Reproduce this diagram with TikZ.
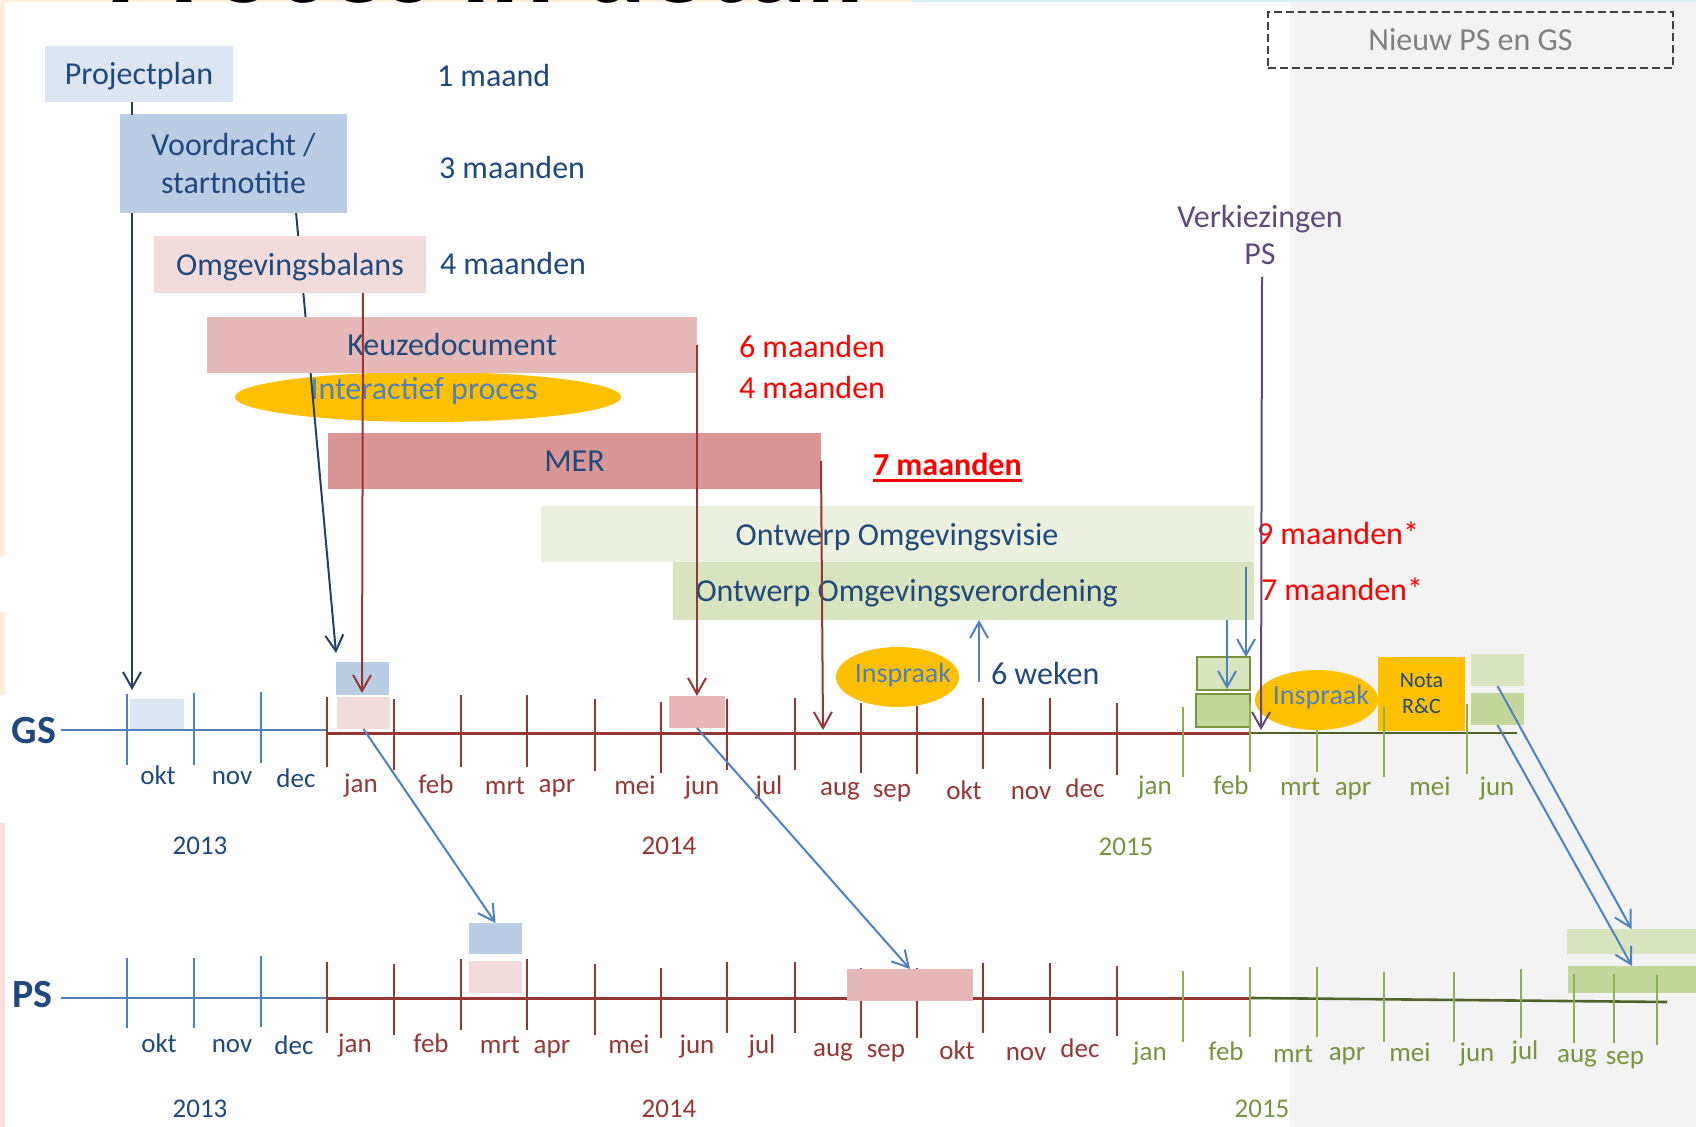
\documentclass[tikz,border=0pt]{standalone}
\usepackage{fontspec}
\setmainfont{Carlito}
\usetikzlibrary{arrows.meta,shapes.geometric,calc}
\definecolor{dblue}{HTML}{1F497D}
\definecolor{navy}{HTML}{243F60}
\definecolor{mblue}{HTML}{4F81BD}
\definecolor{lblue}{HTML}{DCE6F2}
\definecolor{bblue}{HTML}{B9CDE5}
\definecolor{lpink}{HTML}{F2DCDB}
\definecolor{mpink}{HTML}{E6B9B8}
\definecolor{dpink}{HTML}{D99694}
\definecolor{dred}{HTML}{953735}
\definecolor{gold}{HTML}{FFC000}
\definecolor{lgreen}{HTML}{EBF1DE}
\definecolor{mgreen}{HTML}{D7E4BD}
\definecolor{ggreen}{HTML}{C3D69B}
\definecolor{olive}{HTML}{77933C}
\definecolor{tgreen}{HTML}{8DB04E}
\definecolor{dgreen}{HTML}{4F6228}
\definecolor{purp}{HTML}{604A7B}
\definecolor{bggray}{HTML}{F3F3F3}
\definecolor{beige}{HTML}{FDEFDC}
\definecolor{spink}{HTML}{FBDDD9}
\definecolor{scyan}{HTML}{D9F2F8}
\definecolor{pred}{HTML}{FF0000}
\newcommand\mybox[7]{\node[inner sep=0pt, outer sep=0pt, minimum width={(#4-#2)*0.5pt}, minimum height={(#5-#3)*0.5pt}, #6] (#1) at ({(#2+#4)/2},{(#3+#5)/2}) {#7};}
\tikzset{
  lbl/.style={inner sep=0pt, outer sep=0pt, font=\fontsize{16}{19}\selectfont, text height=10.9pt, text depth=0pt},
  mlbl/.style={inner sep=0pt, outer sep=0pt, font=\fontsize{16}{19}\selectfont, align=center},
  mon/.style={inner sep=0pt, outer sep=0pt, font=\fontsize{13.5}{16}\selectfont, text height=8.4pt, text depth=0.7pt},
  arr/.style={line width=1pt, -{Straight Barb[length=8pt,width=9pt]}},
  boxtxt/.style={text=dblue, font=\fontsize{16}{19}\selectfont, text height=10.9pt, text depth=0pt},
  mboxtxt/.style={text=dblue, font=\fontsize{16}{19}\selectfont, align=center},
}
\begin{document}
\begin{tikzpicture}[x=0.5pt,y=-0.5pt]
\useasboundingbox (0,0) rectangle (1696,1127);
% background
\fill[white] (0,0) rectangle (1696,1127);
\fill[bggray] (1290,0) rectangle (1696,1127);
\fill[beige] (0,0) rectangle (5,557);
\fill[beige] (0,612) rectangle (5,695);
\fill[spink] (0,823) rectangle (5,1127);
\fill[beige] (0,0) rectangle (912,2);
\fill[scyan] (912,0) rectangle (1696,2);
% clipped title
\begin{scope}
\clip (0,0) rectangle (1696,1127);
\node[anchor=base west, inner sep=0pt, font=\fontsize{60}{60}\bfseries\selectfont] (title) at (106,3) {Proces in detail};
\end{scope}
% dashed box
\mybox{nieuw}{1268}{12}{1673}{68}{draw=black!75, dash pattern=on 4pt off 2pt, line width=1pt, text=black!50, font=\fontsize{16}{19}\selectfont}{Nieuw PS en GS}

% interactive process ellipse
\node[ellipse, fill=gold, minimum width=193pt, minimum height=25pt, inner sep=0pt] (ip) at (428,397) {};
\node[lbl, text=mblue] (iptxt) at (424,389) {Interactief proces};

% named end points
\coordinate (a1e) at (132,690);
\coordinate (a2e) at (336,653);
\coordinate (a3e) at (362,693);
\coordinate (a5e) at (823,730);
\coordinate (a6s) at (979,682);
\coordinate (a7e) at (1227,689);
\coordinate (a7bs) at (1246,567);
\coordinate (a8s) at (1262,277);
\coordinate (a8e) at (1261,730);

% top boxes
\mybox{proj}{45}{46}{233}{102}{fill=lblue, boxtxt}{Projectplan}
\mybox{voor}{120}{114}{347}{212}{fill=bblue, mboxtxt}{}
\mybox{omg}{154}{236}{426}{293}{fill=lpink, boxtxt}{}

% navy arrows (behind boxes)
\draw[arr, navy] (proj.south -| a1e) -- (a1e);
\draw[arr, navy] ($(voor.south)+(62.5,0)$) -- (a2e);

% boxes on top of navy lines
\mybox{voor2}{120}{114}{347}{212}{fill=bblue, mboxtxt, yshift=-0.5pt}{Voordracht /\\startnotitie}
\mybox{omg2}{154}{236}{426}{293}{fill=lpink, boxtxt}{Omgevingsbalans}
\mybox{keuze}{207}{317}{697}{373}{fill=mpink, boxtxt}{Keuzedocument}
\mybox{mer}{328}{433}{821}{489}{fill=dpink, boxtxt}{MER}
\mybox{visie}{541}{506}{1254}{562}{fill=lgreen}{}
\mybox{verord}{673}{562}{1254}{620}{fill=mgreen}{}
\node[lbl, text=dblue] (visietxt) at (897,535) {Ontwerp Omgevingsvisie};
\node[lbl, text=dblue] (verordtxt) at (906.6,591) {Ontwerp Omgevingsverordening};

% durations
\node[lbl, text=dblue, anchor=west] (d1) at (437,76) {1 maand};
\node[lbl, text=dblue, anchor=west] (d2) at (439,168) {3 maanden};
\node[lbl, text=dblue, anchor=west] (d3) at (440,264) {4 maanden};
\node[lbl, text=pred, anchor=west] (d4) at (739,347) {6 maanden};
\node[lbl, text=pred, anchor=west] (d5) at (739,388) {4 maanden};
\node[lbl, text=pred, anchor=west, font=\fontsize{16}{19}\bfseries\selectfont] (d6) at (873,465) {7 maanden};
\draw[pred, line width=1.4pt] ($(d6.base west)+(0,5)$) -- ($(d6.base east)+(0,5)$);
\node[lbl, text=pred, anchor=west] (d7) at (1257,534) {9 maanden*};
\node[lbl, text=pred, anchor=west] (d8) at (1261,590) {7 maanden*};
\node[mlbl, text=purp, font=\fontsize{16}{18.5}\selectfont] (verk) at (1260,235) {Verkiezingen\\PS};
\node[lbl, text=dblue, anchor=west] (weken) at (991,674) {6 weken};

% GS boxes
\mybox{gokt}{130}{699}{184}{729}{fill=lblue}{}
\mybox{gjanb}{336}{662}{389}{695}{fill=bblue}{}
\mybox{gjanp}{337}{697}{390}{729}{fill=lpink}{}
\mybox{gjun}{669}{696}{725}{728}{fill=mpink}{}
\mybox{gfeba}{1197}{657}{1250}{690}{fill=mgreen, draw=olive, line width=1.2pt}{}
\mybox{gfebb}{1196}{694}{1250}{727}{fill=ggreen, draw=olive, line width=1.2pt}{}
\mybox{nota}{1378}{656}{1465}{730}{fill=gold, text=dblue, font=\fontsize{11}{13}\selectfont, align=center, yshift=-0.5pt}{Nota\\R\&C}
\mybox{gjuna}{1471}{654}{1524}{686}{fill=mgreen}{}
\mybox{gjunb}{1471}{693}{1524}{725}{fill=ggreen}{}
% PS boxes under ticks
\mybox{pauga}{1567}{929}{1696}{954}{fill=mgreen}{}
\mybox{paugb}{1568}{966}{1696}{993}{fill=ggreen}{}

% GS axis
\node[inner sep=0pt, text=dblue, font=\fontsize{20}{24}\bfseries\selectfont] (gs) at (34,731) {GS};
\draw[mblue, line width=1pt] (61,730) -- (327,730);
\draw[dred, line width=1.5pt] (327,733) -- (1251,733);
\draw[dgreen, line width=1.3pt] (1251,733) -- (1517,733);
\foreach \x/\a/\b in {127/694/765, 193.5/693/765, 260.7/692/763}
  \draw[mblue, line width=1pt] (\x,\a) -- (\x,\b);
\foreach \x/\a/\b in {326.8/697/767, 393.5/699/770, 460.7/695/767, 527.4/695/767, 594.6/699/771, 661.2/702/773, 727.4/699/770, 794.6/698/770, 861/703/773, 916.6/706/774, 982.9/698/769, 1049.7/698/769, 1117/703/775}
  \draw[dred, line width=1pt] (\x,\a) -- (\x,\b);
\foreach \x/\a/\b in {1182.9/707/777, 1250.3/703/772, 1317/730/772, 1384/707/777, 1467/704/774}
  \draw[tgreen, line width=1pt] (\x,\a) -- (\x,\b);

% PS axis
\node[inner sep=0pt, text=dblue, font=\fontsize{20}{24}\bfseries\selectfont] (ps) at (32.5,995) {PS};
\draw[mblue, line width=1pt] (61,998) -- (327,998);
\draw[dred, line width=1.5pt] (327,998) -- (1251,998);
\draw[dgreen, line width=1.3pt] (1251,998) -- (1667,1002);
\foreach \x/\a/\b in {127/958/1028, 193.5/958/1028, 260.7/956/1027}
  \draw[mblue, line width=1pt] (\x,\a) -- (\x,\b);
\foreach \x/\a/\b in {326.8/962/1033, 393.5/964/1035, 460.7/959/1030, 527.4/959/1030, 594.6/964/1035, 661.2/968/1038, 727.4/962/1033, 794.6/962/1033, 861/968/1038, 916.6/968/1038, 982.9/963/1033, 1049.7/963/1033, 1117/966/1036}
  \draw[dred, line width=1pt] (\x,\a) -- (\x,\b);
\foreach \x/\a/\b in {1182.9/971/1042, 1250/967/1037, 1317/967/1037, 1384/972/1042, 1454/972/1042, 1521/969/1038, 1574/974/1043, 1614/974/1043, 1657/975/1045}
  \draw[tgreen, line width=1pt] (\x,\a) -- (\x,\b);

% PS boxes over ticks
\mybox{pmrtb}{469}{923}{522}{954}{fill=bblue}{}
\mybox{pmrtp}{469}{961}{522}{993}{fill=lpink}{}
\mybox{psep}{847}{969}{973}{1001}{fill=mpink}{}

% Inspraak ellipses
\node[ellipse, fill=gold, minimum width=61.5pt, minimum height=30pt, inner sep=0pt] (insp1) at (897.5,677) {};
\node[inner sep=0pt, text=mblue, font=\fontsize{14}{16}\selectfont] (insp1t) at (903,675) {Inspraak};
\node[ellipse, fill=gold, minimum width=61.5pt, minimum height=30pt, inner sep=0pt] (insp2) at (1316.5,700) {};
\node[inner sep=0pt, text=mblue, font=\fontsize{14}{16}\selectfont] (insp2t) at (1321,697) {Inspraak};

% month labels GS
\foreach \x/\y/\m/\c [count=\i] in {158/777/okt/dblue, 232/777/nov/dblue, 296/780/dec/dblue, 361/785/jan/dred, 436/786/feb/dred, 505/787/mrt/dred, 557/785/apr/dred, 635/787/mei/dred, 702/787/jun/dred, 769/787/jul/dred, 840/788/aug/dred, 892/790/sep/dred, 964/792/okt/dred, 1031/792/nov/dred, 1085/790/dec/dred, 1155/787/jan/olive, 1231/787/feb/olive, 1300/788/mrt/olive, 1353/788/apr/olive, 1430/788/mei/olive, 1497/788/jun/olive}
  \node[mon, text=\c] (gm\i) at (\x,\y) {\m};
% month labels PS
\foreach \x/\y/\m/\c [count=\i] in {159/1045/okt/dblue, 232/1045/nov/dblue, 294/1047/dec/dblue, 355/1045/jan/dred, 431/1045/feb/dred, 500/1046/mrt/dred, 552/1046/apr/dred, 629/1046/mei/dred, 697/1046/jun/dred, 762/1046/jul/dred, 833/1049/aug/dred, 886/1050/sep/dred, 957/1052/okt/dred, 1026/1053/nov/dred, 1080/1050/dec/dred, 1150/1053/jan/olive, 1226/1053/feb/olive, 1293/1055/mrt/olive, 1347/1053/apr/olive, 1410/1054/mei/olive, 1477/1054/jun/olive, 1525/1052/jul/olive, 1577/1055/aug/olive, 1625/1057/sep/olive}
  \node[mon, text=\c] (pm\i) at (\x,\y) {\m};
% years
\node[mon, text=dblue] (gy13) at (200,847) {2013};
\node[mon, text=dred] (gy14) at (669,847) {2014};
\node[mon, text=olive] (gy15) at (1126,848) {2015};
\node[mon, text=dblue] (py13) at (200,1110) {2013};
\node[mon, text=dred] (py14) at (669,1110) {2014};
\node[mon, text=olive] (py15) at (1262,1110) {2015};

% red arrows over boxes
\draw[arr, dred] ($(omg.south)+(73,0)$) -- (a3e);
\draw[arr, dred] (keuze.east) -- (keuze.east |- gjun.north);
\draw[arr, dred] (mer.east) -- (a5e);
% blue arrows
\draw[arr, mblue] (a6s) -- (verord.south -| a6s);
\draw[arr, mblue] (verord.south -| a7e) -- (a7e);
\draw[arr, mblue] (a7bs) -- (gfeba.north -| a7bs);
\draw[arr, purp] (a8s) -- (a8e);
\draw[arr, mblue] (gjanp.south) -- (pmrtb.north);
\draw[arr, mblue] (gjun.south) -- (psep.north);
\draw[arr, mblue] (gjuna.south) -- (pauga.north);
\draw[arr, mblue] (gjunb.south) -- (paugb.north);
\end{tikzpicture}
\end{document}
